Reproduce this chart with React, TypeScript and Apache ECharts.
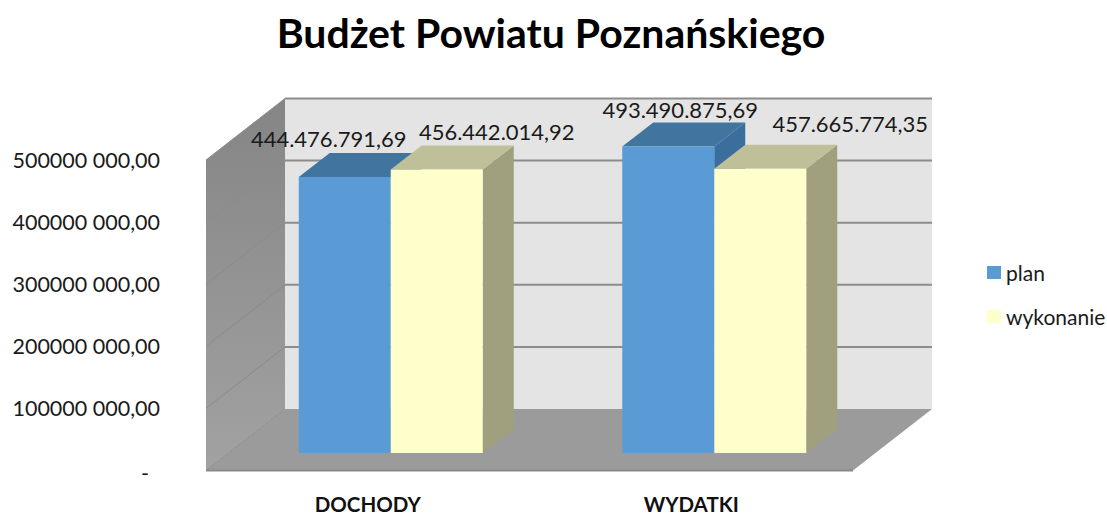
import React, { useEffect, useRef } from "react";
import * as echarts from "echarts";

const categories = ["DOCHODY", "WYDATKI"];
const planValues = [444476791.69, 493490875.69];
const wykonanieValues = [456442014.92, 457665774.35];
const yTicks = [0, 100000000, 200000000, 300000000, 400000000, 500000000];
const planLabels = ["444.476.791,69", "493.490.875,69"];
const wykonanieLabels = ["456.442.014,92", "457.665.774,35"];

// Layout of the pseudo-3D scene, in pixels
const WALL_DX = 79;
const WALL_DY = -61.5;
const BAR_SHIFT_X = 23;
const BAR_SHIFT_Y = -17.5;
const BAR_DX = 31;
const BAR_DY = -24;
const BAR_W = 92;
const planLabelOffsets = [[-16, -38], [12, -37]];
const wykLabelOffsets = [[60, -38], [90, -45]];

const FONT = "Lato, Carlito, 'Open Sans', sans-serif";

function formatTick(v: number) {
  if (v === 0) return "{dash|-}";
  return `${v / 100000000}00000 000,00`;
}

function wallsItem(params: any, api: any) {
  const v = api.value(1);
  const cs = params.coordSys;
  const left = cs.x;
  const right = cs.x + cs.width;
  const y = api.coord([0, v])[1];
  const children: any[] = [];
  const poly = (points: number[][], style: any) => ({ type: "polygon", shape: { points }, style });
  if (params.dataIndex === 0) {
    const topY = cs.y;
    const botY = cs.y + cs.height;
    children.push(
      poly(
        [[left + WALL_DX, topY + WALL_DY], [right + WALL_DX, topY + WALL_DY], [right + WALL_DX, botY + WALL_DY], [left + WALL_DX, botY + WALL_DY]],
        { fill: "#e4e4e4" }
      ),
      poly(
        [[left, topY], [left + WALL_DX, topY + WALL_DY], [left + WALL_DX, botY + WALL_DY], [left, botY]],
        {
          fill: new echarts.graphic.LinearGradient(0, 0, 0, 1, [
            { offset: 0, color: "#858585" },
            { offset: 1, color: "#a2a2a2" },
          ]),
        }
      ),
      poly(
        [[left, botY], [right, botY], [right + WALL_DX, botY + WALL_DY], [left + WALL_DX, botY + WALL_DY]],
        { fill: "#9b9b9b" }
      ),
      { type: "line", shape: { x1: left, y1: botY, x2: right, y2: botY }, style: { stroke: "#8a8a8a", lineWidth: 2 } },
      { type: "line", shape: { x1: left, y1: botY, x2: left + WALL_DX, y2: botY + WALL_DY }, style: { stroke: "#8f8f8f", lineWidth: 1 } }
    );
  } else {
    children.push(
      { type: "line", shape: { x1: left + WALL_DX, y1: y + WALL_DY, x2: right + WALL_DX, y2: y + WALL_DY }, style: { stroke: "#8c8c8c", lineWidth: 2 } },
      { type: "line", shape: { x1: left, y1: y, x2: left + WALL_DX, y2: y + WALL_DY }, style: { stroke: "#8b8b8b", lineWidth: 1 } }
    );
  }
  return { type: "group", children };
}

function barItem(side: number, front: string, top: string, flank: string, labels: string[], offsets: number[][]) {
  return (params: any, api: any) => {
    const idx = api.value(0);
    const val = api.value(1);
    const p = api.coord([idx, val]);
    const base = api.coord([idx, 0]);
    const x0 = p[0] + BAR_SHIFT_X + (side === 0 ? -BAR_W : 0);
    const x1 = x0 + BAR_W;
    const yTop = p[1] + BAR_SHIFT_Y;
    const yBot = base[1] + BAR_SHIFT_Y;
    const off = offsets[params.dataIndex];
    return {
      type: "group",
      children: [
        { type: "polygon", shape: { points: [[x1, yTop], [x1 + BAR_DX, yTop + BAR_DY], [x1 + BAR_DX, yBot + BAR_DY], [x1, yBot]] }, style: { fill: flank } },
        { type: "polygon", shape: { points: [[x0, yTop], [x0 + BAR_DX, yTop + BAR_DY], [x1 + BAR_DX, yTop + BAR_DY], [x1, yTop]] }, style: { fill: top } },
        { type: "rect", shape: { x: x0, y: yTop, width: BAR_W, height: yBot - yTop }, style: { fill: front } },
        {
          type: "text",
          z2: 50,
          style: {
            x: (x0 + x1) / 2 + off[0],
            y: yTop + off[1],
            text: labels[params.dataIndex],
            fill: "#1a1a1a",
            font: `22px ${FONT}`,
            align: "center",
            verticalAlign: "middle",
          },
        },
      ],
    };
  };
}

export default function App() {
  const ref = useRef<HTMLDivElement>(null);
  useEffect(() => {
    const chart = echarts.init(ref.current!, null, { renderer: "svg" });
    chart.setOption({
      animation: false,
      backgroundColor: "#ffffff",
      title: {
        text: "Budżet Powiatu Poznańskiego",
        left: 546,
        textAlign: "center",
        top: 7,
        textStyle: { fontFamily: FONT, fontWeight: "bold", fontSize: 41, color: "#000000" },
      },
      legend: {
        orient: "vertical",
        left: 987,
        top: 262,
        padding: 0,
        itemWidth: 14,
        itemHeight: 13,
        itemGap: 23,
        icon: "rect",
        data: ["plan", "wykonanie"],
        textStyle: { fontFamily: FONT, fontSize: 21, color: "#1a1a1a" },
      },
      grid: { left: 206, top: 160, width: 647, height: 312 },
      xAxis: {
        type: "category",
        data: categories,
        axisLine: { show: false },
        axisTick: { show: false },
        axisLabel: { fontFamily: FONT, fontWeight: "bold", fontSize: 20.5, lineHeight: 18, color: "#111111", margin: 24 },
      },
      yAxis: {
        type: "value",
        min: 0,
        max: 500000000,
        interval: 100000000,
        axisLine: { show: false },
        axisTick: { show: false },
        splitLine: { show: false },
        axisLabel: {
          fontFamily: FONT,
          fontSize: 21.5,
          color: "#1a1a1a",
          margin: 46,
          formatter: formatTick,
          rich: { dash: { fontFamily: FONT, fontSize: 21.5, color: "#1a1a1a", padding: [4, 11, 0, 0] } },
        },
      },
      series: [
        {
          type: "custom",
          name: "scene",
          z: 1,
          encode: { x: 0, y: 1 },
          data: yTicks.map((t) => [0, t]),
          renderItem: wallsItem,
        },
        {
          type: "custom",
          name: "plan",
          z: 2,
          itemStyle: { color: "#5b9bd5" },
          encode: { x: 0, y: 1 },
          data: planValues.map((v, i) => [i, v]),
          renderItem: barItem(0, "#5b9bd5", "#41749f", "#3a6e9c", planLabels, planLabelOffsets),
        },
        {
          type: "custom",
          name: "wykonanie",
          z: 3,
          itemStyle: { color: "#ffffcc" },
          encode: { x: 0, y: 1 },
          data: wykonanieValues.map((v, i) => [i, v]),
          renderItem: barItem(1, "#ffffcc", "#bfbf99", "#a0a07e", wykonanieLabels, wykLabelOffsets),
        },
      ],
    });
    return () => chart.dispose();
  }, []);
  return <div ref={ref} style={{ position: "absolute", left: 0, top: 0, width: 1107, height: 514 }} />;
}
